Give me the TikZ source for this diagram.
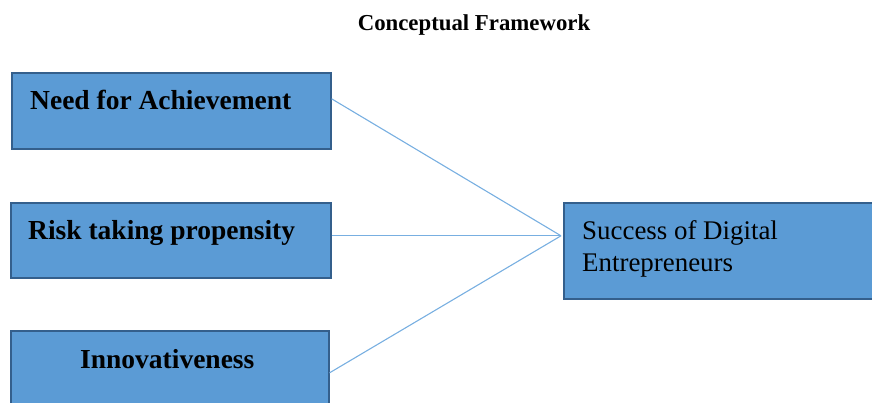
\documentclass[tikz,border=0pt]{standalone}
\usepackage{fontspec}
\setmainfont{Liberation Serif}
\usetikzlibrary{calc}
\definecolor{boxfill}{RGB}{91,155,213}
\definecolor{boxedge}{RGB}{52,95,140}
\definecolor{linkcol}{RGB}{120,175,225}
\tikzset{
  box/.style={draw=boxedge, line width=1.6pt, fill=boxfill, rectangle, inner sep=0pt, anchor=north west},
  boldlbl/.style={anchor=base west, inner sep=0pt, font=\fontsize{27.5}{32}\selectfont\bfseries},
  plainlbl/.style={anchor=base west, inner sep=0pt, font=\fontsize{26.9}{32}\selectfont},
  titlelbl/.style={anchor=base, inner sep=0pt, font=\fontsize{22.8}{26}\selectfont\bfseries},
  link/.style={draw=linkcol, line width=1.1pt}
}
\begin{document}
\begin{tikzpicture}[x=1pt,y=-1pt]
\useasboundingbox (0,0) rectangle (872,403);
\clip (0,0) rectangle (872,403);
\node[titlelbl] (title) at (474,31) {Conceptual Framework};
\node[box, minimum width=319pt, minimum height=76pt] (a) at (11,72) {};
\node[box, minimum width=320pt, minimum height=75pt] (b) at (10,202) {};
\node[box, minimum width=318pt, minimum height=80pt] (c) at (10,330) {};
\node[box, minimum width=320pt, minimum height=96pt] (d) at (563,202) {};
\node[boldlbl] (ta) at (30,110) {Need for Achievement};
\node[boldlbl] (tb) at (28,240) {Risk taking propensity};
\node[boldlbl] (tc) at (80,368) {Innovativeness};
\node[plainlbl] (td1) at (582,240) {Success of Digital};
\node[plainlbl] (td2) at (582,272) {Entrepreneurs};
\coordinate (ea) at ([yshift=12pt]a.east);
\coordinate (eb) at ([yshift=4.5pt]b.east);
\coordinate (ec) at ([yshift=-2pt]c.east);
\coordinate (ed) at ([yshift=15pt,xshift=-2pt]d.west);
\draw[link] (ea) -- (ed);
\draw[link] (eb) -- (ed);
\draw[link] (ec) -- (ed);
\end{tikzpicture}
\end{document}
